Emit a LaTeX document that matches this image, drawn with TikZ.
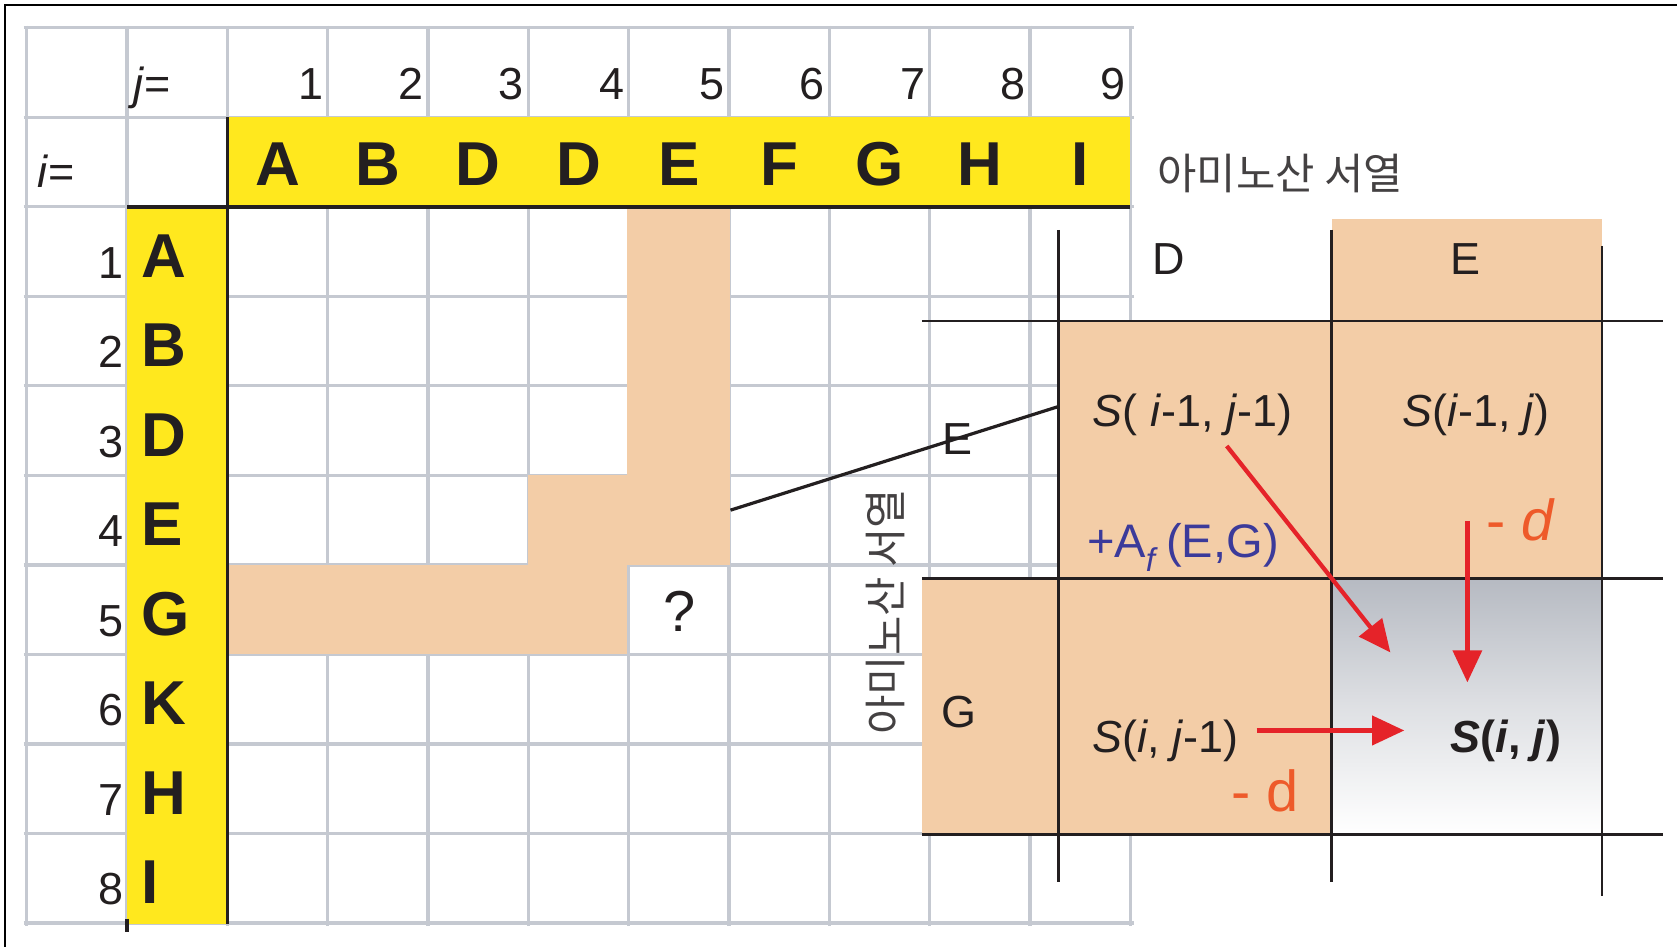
\documentclass[tikz,border=0pt]{standalone}
\usepackage{fontspec}
\setmainfont{Liberation Sans}
\newfontfamily\krfont{Noto Sans CJK KR}
\usetikzlibrary{arrows.meta}

\definecolor{seqyellow}{RGB}{255,232,30}
\definecolor{peach}{RGB}{243,205,167}
\definecolor{gridgray}{RGB}{197,201,209}
\definecolor{cellgray}{RGB}{182,186,194}
\definecolor{afblue}{RGB}{59,58,154}
\definecolor{arrowred}{RGB}{229,35,41}
\definecolor{gaporange}{RGB}{238,90,42}
\definecolor{inkblack}{RGB}{35,31,32}

\tikzset{
  gridline/.style={draw=gridgray,line width=3pt},
  bandline/.style={draw=inkblack,line width=3.5pt},
  zoomline/.style={draw=inkblack,line width=2.5pt},
  bigletter/.style={font=\fontsize{58}{58}\selectfont\bfseries,text=inkblack,inner sep=0pt},
  numlabel/.style={font=\fontsize{42}{42}\selectfont,text=inkblack,inner sep=0pt},
  gaplabel/.style={font=\fontsize{54}{54}\selectfont,text=gaporange,inner sep=0pt},
  seqname/.style={font=\krfont\fontsize{40}{40}\selectfont,text=inkblack!85,inner sep=0pt},
  redarrow/.style={draw=arrowred,line width=4pt,-{Triangle[length=30pt,width=27pt]}},
}

\begin{document}
\begin{tikzpicture}[x=1pt,y=-1pt]
    \useasboundingbox (0,0) rectangle (1568,885);
    \draw[line width=2pt] (1568,5) -- (5,5) -- (5,885);

    % score matrix grid
    \foreach \k in {0,...,11}
        \draw[gridline] (25+93.8*\k,24) -- (25+93.8*\k,866);
    \foreach \r in {0,...,10}
        \draw[gridline] (22,26+83.7*\r) -- (1060,26+83.7*\r);

    \fill[seqyellow] (212.6,109.7) rectangle (1056.8,193.4);
    \fill[seqyellow] (118.8,193.4) rectangle (212.6,864);

    \fill[peach] (586,193.4) rectangle (683,528.2);
    \fill[peach] (494,444.5) rectangle (586,528.2);
    \fill[peach] (212.6,528.2) rectangle (586,611.9);

    \draw[bandline] (118.8,193.4) -- (1056.8,193.4);
    \draw[bandline] (212.6,109.7) -- (212.6,864);
    \draw[bandline] (118.8,859) -- (118.8,871);

    % enlarged cells
    \fill[peach] (1245,205) rectangle (1498,300);
    \fill[peach] (990,300) rectangle (1498,541);
    \fill[peach] (862,541) rectangle (1245,780);
    \shade[top color=cellgray,bottom color=white,middle color=cellgray!45]
        (1245,541) rectangle (1498,780);

    \draw[zoomline] (990,215) -- (990,825);
    \draw[zoomline] (1245,215) -- (1245,825);
    \draw[zoomline] (1498,230) -- (1498,838);
    \draw[zoomline] (862,300) -- (1555,300);
    \draw[zoomline] (862,541) -- (1555,541);
    \draw[zoomline] (862,780) -- (1555,780);

    \coordinate (cellE4) at (683,477);
    \coordinate (zoomin) at (990,380);
    \draw[line width=3pt,inkblack] (cellE4) -- (zoomin);

    % labels of the matrix
    \node[numlabel,anchor=base west] (jlabel) at (125,93) {\textit{j}=};
    \node[numlabel,anchor=base west] (ilabel) at (35,175) {\textit{i}=};
    \foreach \n in {1,...,9}
        \node[numlabel,anchor=base east] (colnum\n) at (208.6+93.8*\n,93) {\n};
    \foreach \n in {1,...,8}
        \node[numlabel,anchor=base east] (rownum\n) at (116,176.4+83.7*\n) {\n};
    \foreach \c [count=\n] in {A,B,D,D,E,F,G,H,I}
        \node[bigletter,anchor=base] (colseq\n) at (165.7+93.8*\n,173) {\c};
    \foreach \c [count=\n] in {A,B,D,E,G,K,H,I}
        \node[bigletter,anchor=base west] (rowseq\n) at (132,175.6+83.7*\n) {\c};
    \node[numlabel,font=\fontsize{54}{54}\selectfont] (query) at (635,572) {?};

    \node[seqname,anchor=west] (seqtop) at (1082,162) {아미노산 서열};
    \node[seqname,rotate=90] (seqside) at (828,572) {아미노산 서열};

    % labels of the enlarged cells
    \node[numlabel,anchor=base] (hdrD) at (1093,257) {D};
    \node[numlabel,anchor=base] (hdrE) at (1370,257) {E};
    \node[numlabel,anchor=base] (rowE) at (895,425) {E};
    \node[numlabel,anchor=base] (rowG) at (897,680) {G};

    \node[numlabel,anchor=base] (sdiag) at (1115,399)
        {\textit{S}( \textit{i}-1, \textit{j}-1)};
    \node[numlabel,anchor=base] (sup) at (1380,399)
        {\textit{S}(\textit{i}-1, \textit{j})};
    \node[numlabel,anchor=base] (sleft) at (1090,704)
        {\textit{S}(\textit{i}, \textit{j}-1)};
    \node[numlabel,anchor=base] (snew) at (1408,704)
        {\bfseries\textit{S}(\textit{i}, \textit{j})};
    \node[numlabel,anchor=base,text=afblue,font=\fontsize{44}{44}\selectfont] (match) at (1106,521)
        {+A\textsubscript{\textit{f}}\,(E,G)};
    \node[gaplabel,anchor=base] (gapup) at (1422,505) {- \textit{d}};
    \node[gaplabel,anchor=base] (gapleft) at (1183,759) {- d};

    \coordinate (diagfrom) at (1147,417);
    \coordinate (diagto) at (1300,610);
    \coordinate (upfrom) at (1372,487);
    \coordinate (upto) at (1372,638);
    \coordinate (leftfrom) at (1175,683);
    \coordinate (leftto) at (1313,683);
    \draw[redarrow] (diagfrom) -- (diagto);
    \draw[redarrow] (upfrom) -- (upto);
    \draw[redarrow] (leftfrom) -- (leftto);
\end{tikzpicture}
\end{document}
